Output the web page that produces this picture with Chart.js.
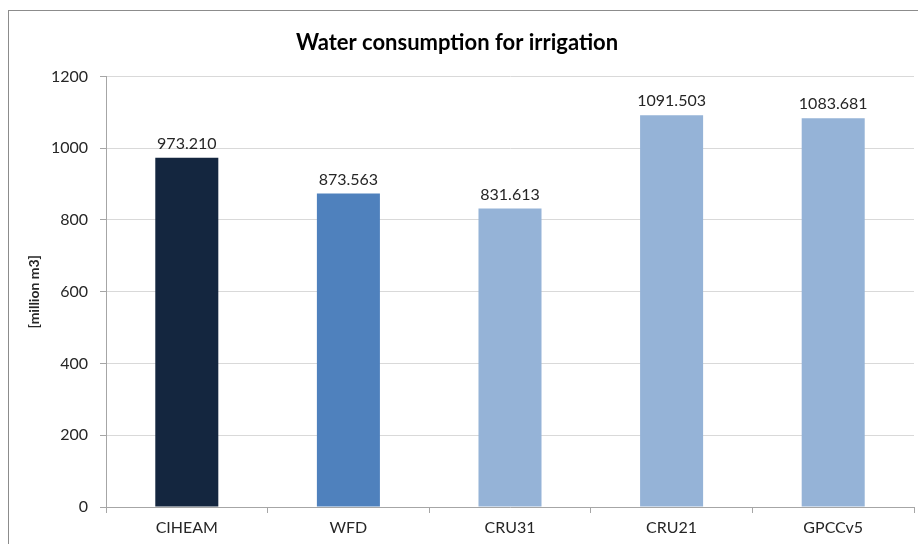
<!DOCTYPE html>
<html lang="en">
<head>
  <meta charset="UTF-8">
  <title>Water consumption for irrigation</title>
  <script src="https://cdn.jsdelivr.net/npm/chart.js"></script>
  <style>
    html, body {
      margin: 0;
      padding: 0;
      background: #fff;
      overflow: hidden;
    }
    .frame {
      position: absolute;
      left: 8px;
      top: 10px;
      width: 940px;
      height: 560px;
      border: 1px solid #8c8c8c;
    }
    .chart-container {
      position: absolute;
      left: 0;
      top: 0;
      width: 918px;
      height: 544px;
    }
  </style>
</head>
<body>
  <div class="frame"></div>
  <div class="chart-container">
    <canvas id="waterChart"></canvas>
  </div>

  <script>
    // categories and values
    const datasetsNames = ["CIHEAM", "WFD", "CRU31", "CRU21", "GPCCv5"];
    const consumption = [973.210, 873.563, 831.613, 1091.503, 1083.681];
    const barColors = ['#14263f', '#4f81bd', '#95b3d7', '#95b3d7', '#95b3d7'];

    const fontFamily = 'Lato, "Open Sans", sans-serif';

    // draw value labels on top of the bars
    const valueLabels = {
      id: 'valueLabels',
      afterDatasetsDraw(chart) {
        const ctx = chart.ctx;
        const meta = chart.getDatasetMeta(0);
        ctx.save();
        ctx.font = '16px ' + fontFamily;
        ctx.fillStyle = '#262626';
        ctx.textAlign = 'center';
        ctx.textBaseline = 'bottom';
        meta.data.forEach((bar, i) => {
          ctx.fillText(consumption[i].toFixed(3), bar.x, bar.y - 6);
        });
        ctx.restore();
      }
    };

    const ctx = document.getElementById('waterChart').getContext('2d');
    const waterChart = new Chart(ctx, {
      type: 'bar',
      data: {
        labels: datasetsNames,
        datasets: [{
          data: consumption,
          backgroundColor: barColors,
          barPercentage: 0.39,
          categoryPercentage: 1.0
        }]
      },
      options: {
        responsive: true,
        maintainAspectRatio: false,
        animation: false,
        layout: {
          padding: { left: 0, right: 4, top: 30, bottom: 0 }
        },
        scales: {
          x: {
            afterFit: s => { s.height = 37; },
            grid: {
              offset: true,
              drawOnChartArea: false,
              tickLength: 6,
              color: '#a6a6a6'
            },
            border: { color: '#a6a6a6' },
            ticks: {
              color: '#262626',
              padding: 5,
              font: { family: fontFamily, size: 16 }
            }
          },
          y: {
            min: 0,
            max: 1200,
            afterFit: s => { s.width = 106; },
            grid: {
              color: '#d9d9d9',
              tickLength: 6,
              tickColor: '#a6a6a6'
            },
            border: { color: '#a6a6a6' },
            ticks: {
              stepSize: 200,
              color: '#262626',
              padding: 12,
              font: { family: fontFamily, size: 16 },
              callback: v => String(v)
            },
            title: {
              display: true,
              text: '[million m3]',
              color: '#262626',
              padding: { top: 26, bottom: 0 },
              font: { family: fontFamily, size: 14, weight: 'bold' }
            }
          }
        },
        plugins: {
          legend: { display: false },
          tooltip: { enabled: false },
          title: {
            display: true,
            text: 'Water consumption for irrigation',
            color: '#000',
            padding: { top: 0, bottom: 20 },
            font: { family: fontFamily, size: 22, weight: 'bold' }
          }
        }
      },
      plugins: [valueLabels]
    });
  </script>
</body>
</html>
